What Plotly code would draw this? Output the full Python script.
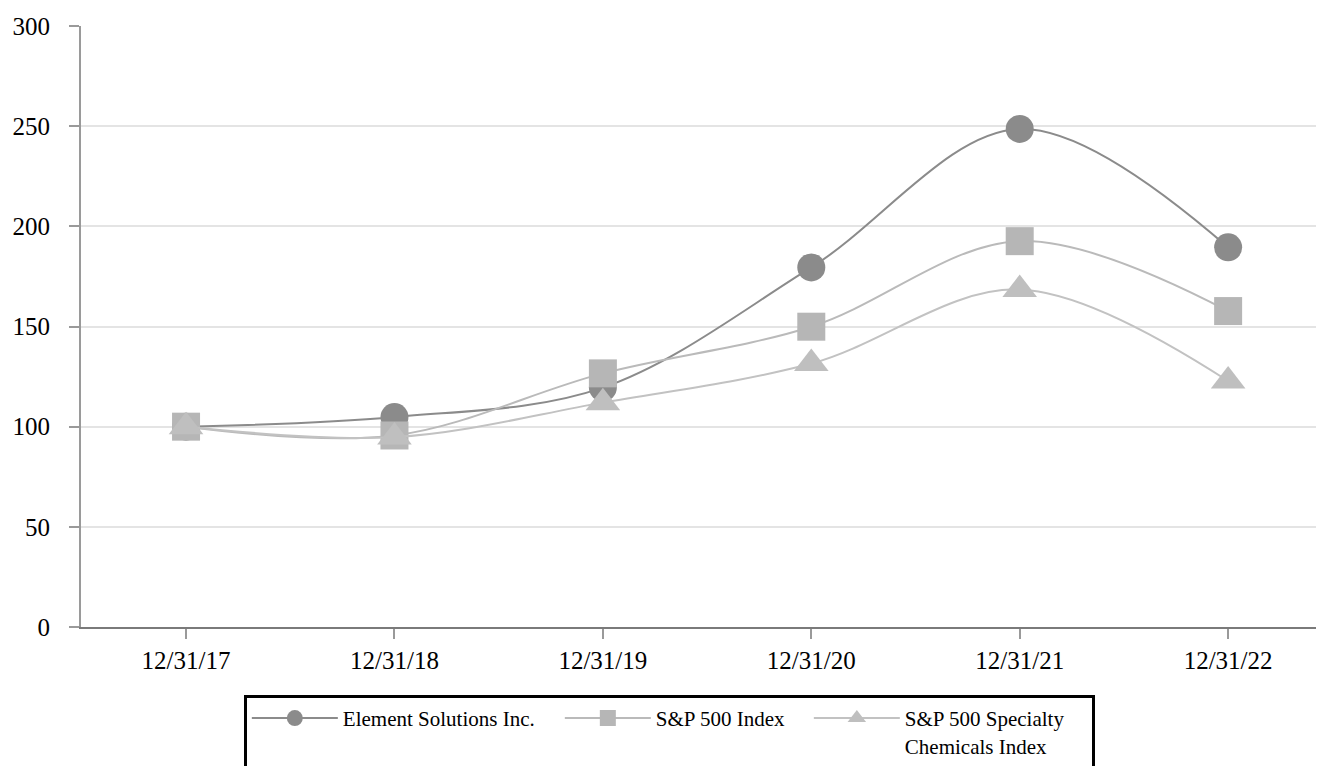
import plotly.graph_objects as go

dates = ["12/31/17", "12/31/18", "12/31/19", "12/31/20", "12/31/21", "12/31/22"]
esi = [100, 104.8, 119.5, 179.5, 248.6, 189.5]
sp500 = [100, 95.6, 126.6, 149.9, 192.6, 157.7]
spec_chem = [100, 94.8, 112.0, 131.5, 168.5, 122.8]

series = [
    ("Element Solutions Inc.", esi, "circle", "#8b8b8b", "#8b8b8b", 28, 212),
    ("S&P 500 Index", sp500, "square", "#b6b6b6", "#bababa", 28, 148),
    ("S&P 500 Specialty<br>Chemicals Index", spec_chem, "triangle-up", "#bfbfbf", "#c2c2c2", 30, 182),
]

fig = go.Figure()
for name, vals, sym, mcol, lcol, size, lw in series:
    fig.add_trace(go.Scatter(
        x=dates, y=vals, name=name, mode="lines+markers",
        line=dict(color=lcol, width=2, shape="spline", smoothing=1.0),
        marker=dict(symbol=sym, size=size, color=mcol, line=dict(width=0)),
        legendwidth=lw,
    ))

font_family = "Liberation Serif, Times New Roman, serif"
fig.update_layout(
    width=1316, height=758,
    margin=dict(l=73, r=0, t=18, b=139, autoexpand=False),
    paper_bgcolor="white", plot_bgcolor="white",
    font=dict(family=font_family, color="black"),
    showlegend=True,
    legend=dict(
        orientation="h", x=0.131, y=-0.113, xanchor="left", yanchor="top",
        bordercolor="black", borderwidth=3, bgcolor="white",
        font=dict(family=font_family, size=21, color="black"),
        valign="top", itemwidth=86, tracegroupgap=0,
    ),
)
fig.update_xaxes(
    type="category", range=[-0.504, 5.46],
    showgrid=False, zeroline=False,
    showline=True, linecolor="#7a7a7a", linewidth=2,
    ticks="outside", ticklen=10, tickcolor="#9a9a9a", tickwidth=2,
    tickfont=dict(family=font_family, size=25, color="black"),
    ticklabelstandoff=0,
)
fig.update_yaxes(
    range=[0, 300], dtick=50, tick0=0,
    showgrid=True, gridcolor="#e4e4e4", gridwidth=2,
    zeroline=False,
    showline=True, linecolor="#9a9a9a", linewidth=2,
    ticks="outside", ticklen=10, tickcolor="#9a9a9a", tickwidth=2,
    tickfont=dict(family=font_family, size=25, color="black"),
    ticklabelstandoff=14,
)

fig.write_html("out.html")
